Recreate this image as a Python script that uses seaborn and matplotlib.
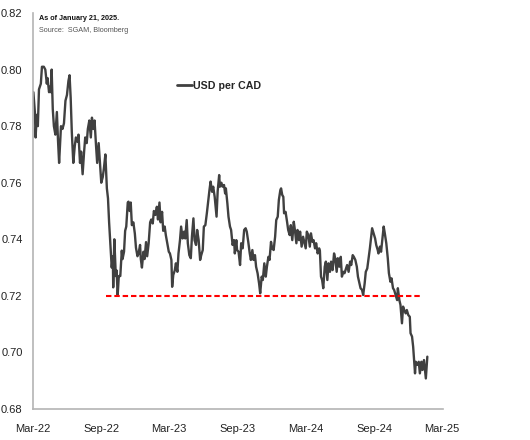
import pandas as pd
import matplotlib.pyplot as plt
import matplotlib.dates as mdates
import seaborn as sns

# USD per CAD (about two readings a week)
dates = [
    '2022-03-02', '2022-03-06', '2022-03-08', '2022-03-11', '2022-03-14', '2022-03-17', '2022-03-22', '2022-03-25', '2022-03-30', '2022-04-03',
    '2022-04-07', '2022-04-09', '2022-04-13', '2022-04-16', '2022-04-18', '2022-04-20', '2022-04-23', '2022-04-26', '2022-04-30', '2022-05-04',
    '2022-05-07', '2022-05-10', '2022-05-15', '2022-05-19', '2022-05-23', '2022-05-27', '2022-05-31', '2022-06-04', '2022-06-07', '2022-06-10',
    '2022-06-13', '2022-06-17', '2022-06-21', '2022-06-24', '2022-06-28', '2022-07-01', '2022-07-05', '2022-07-08', '2022-07-12', '2022-07-16',
    '2022-07-19', '2022-07-23', '2022-07-26', '2022-07-30', '2022-08-03', '2022-08-06', '2022-08-10', '2022-08-13', '2022-08-17', '2022-08-20',
    '2022-08-24', '2022-08-28', '2022-08-31', '2022-09-04', '2022-09-07', '2022-09-11', '2022-09-15', '2022-09-18', '2022-09-21', '2022-09-25',
    '2022-09-28', '2022-10-01', '2022-10-02', '2022-10-05', '2022-10-09', '2022-10-11', '2022-10-14', '2022-10-17', '2022-10-21', '2022-10-25',
    '2022-10-27', '2022-10-31', '2022-11-03', '2022-11-06', '2022-11-10', '2022-11-12', '2022-11-15', '2022-11-18', '2022-11-21', '2022-11-25',
    '2022-11-29', '2022-12-02', '2022-12-06', '2022-12-09', '2022-12-13', '2022-12-15', '2022-12-18', '2022-12-22', '2022-12-25', '2022-12-29',
    '2023-01-01', '2023-01-05', '2023-01-09', '2023-01-12', '2023-01-16', '2023-01-19', '2023-01-23', '2023-01-27', '2023-01-30', '2023-02-03',
    '2023-02-06', '2023-02-10', '2023-02-13', '2023-02-17', '2023-02-20', '2023-02-24', '2023-02-28', '2023-03-03', '2023-03-07', '2023-03-09',
    '2023-03-12', '2023-03-16', '2023-03-19', '2023-03-23', '2023-03-26', '2023-03-30', '2023-04-02', '2023-04-06', '2023-04-10', '2023-04-13',
    '2023-04-17', '2023-04-20', '2023-04-24', '2023-04-28', '2023-05-01', '2023-05-05', '2023-05-08', '2023-05-12', '2023-05-15', '2023-05-19',
    '2023-05-23', '2023-05-26', '2023-05-30', '2023-06-02', '2023-06-06', '2023-06-10', '2023-06-13', '2023-06-17', '2023-06-20', '2023-06-24',
    '2023-06-27', '2023-07-01', '2023-07-06', '2023-07-09', '2023-07-13', '2023-07-15', '2023-07-19', '2023-07-22', '2023-07-26', '2023-07-29',
    '2023-07-31', '2023-08-04', '2023-08-07', '2023-08-11', '2023-08-14', '2023-08-18', '2023-08-22', '2023-08-24', '2023-08-28', '2023-08-30',
    '2023-09-03', '2023-09-07', '2023-09-10', '2023-09-14', '2023-09-18', '2023-09-22', '2023-09-25', '2023-09-29', '2023-10-03', '2023-10-06',
    '2023-10-10', '2023-10-13', '2023-10-17', '2023-10-20', '2023-10-24', '2023-10-28', '2023-10-31', '2023-11-04', '2023-11-07', '2023-11-11',
    '2023-11-15', '2023-11-18', '2023-11-22', '2023-11-25', '2023-11-29', '2023-12-02', '2023-12-06', '2023-12-10', '2023-12-13', '2023-12-17',
    '2023-12-20', '2023-12-24', '2023-12-26', '2023-12-29', '2024-01-01', '2024-01-03', '2024-01-07', '2024-01-11', '2024-01-14', '2024-01-18',
    '2024-01-21', '2024-01-25', '2024-01-29', '2024-02-01', '2024-02-05', '2024-02-08', '2024-02-12', '2024-02-15', '2024-02-19', '2024-02-23',
    '2024-02-26', '2024-03-01', '2024-03-04', '2024-03-08', '2024-03-12', '2024-03-15', '2024-03-19', '2024-03-22', '2024-03-26', '2024-03-29',
    '2024-04-02', '2024-04-06', '2024-04-08', '2024-04-11', '2024-04-14', '2024-04-17', '2024-04-21', '2024-04-24', '2024-04-28', '2024-05-01',
    '2024-05-05', '2024-05-08', '2024-05-12', '2024-05-16', '2024-05-19', '2024-05-23', '2024-05-26', '2024-05-30', '2024-06-03', '2024-06-06',
    '2024-06-10', '2024-06-13', '2024-06-17', '2024-06-20', '2024-06-24', '2024-06-28', '2024-07-01', '2024-07-05', '2024-07-08', '2024-07-12',
    '2024-07-16', '2024-07-19', '2024-07-23', '2024-07-26', '2024-07-30', '2024-08-02', '2024-08-06', '2024-08-09', '2024-08-13', '2024-08-17',
    '2024-08-20', '2024-08-24', '2024-08-26', '2024-08-30', '2024-09-03', '2024-09-06', '2024-09-10', '2024-09-12', '2024-09-16', '2024-09-19',
    '2024-09-23', '2024-09-26', '2024-09-29', '2024-10-03', '2024-10-07', '2024-10-10', '2024-10-14', '2024-10-17', '2024-10-21', '2024-10-24',
    '2024-10-28', '2024-11-01', '2024-11-03', '2024-11-07', '2024-11-10', '2024-11-14', '2024-11-17', '2024-11-20', '2024-11-24', '2024-11-27',
    '2024-12-01', '2024-12-05', '2024-12-07', '2024-12-11', '2024-12-14', '2024-12-17', '2024-12-19', '2024-12-21', '2024-12-25', '2024-12-29',
    '2025-01-01', '2025-01-05', '2025-01-08', '2025-01-12', '2025-01-17', '2025-01-21',
]

usd_per_cad = [
    0.792, 0.785, 0.776, 0.784, 0.780, 0.793, 0.795, 0.801, 0.801, 0.800,
    0.795, 0.797, 0.792, 0.794, 0.792, 0.800, 0.786, 0.780, 0.777, 0.785,
    0.775, 0.767, 0.780, 0.779, 0.781, 0.789, 0.791, 0.796, 0.798, 0.790,
    0.778, 0.767, 0.773, 0.776, 0.7745, 0.777, 0.767, 0.771, 0.763, 0.771,
    0.776, 0.774, 0.779, 0.782, 0.776, 0.783, 0.779, 0.782, 0.773, 0.767,
    0.774, 0.766, 0.760, 0.762, 0.765, 0.770, 0.758, 0.7545, 0.746, 0.737,
    0.730, 0.734, 0.723, 0.740, 0.727, 0.729, 0.7203, 0.727, 0.727, 0.736,
    0.733, 0.7356, 0.743, 0.7445, 0.753, 0.7533, 0.750, 0.753, 0.745, 0.746,
    0.742, 0.737, 0.734, 0.735, 0.738, 0.733, 0.730, 0.7356, 0.733, 0.739,
    0.734, 0.7386, 0.746, 0.747, 0.7456, 0.750, 0.7486, 0.7515, 0.747, 0.753,
    0.746, 0.7497, 0.743, 0.7445, 0.7415, 0.7386, 0.7356, 0.735, 0.7327, 0.7232,
    0.7274, 0.729, 0.7315, 0.7285, 0.735, 0.7397, 0.7445, 0.7403, 0.7427, 0.7403,
    0.7468, 0.7386, 0.7344, 0.7333, 0.7409, 0.7474, 0.7397, 0.738, 0.7433, 0.7397,
    0.7327, 0.7344, 0.7362, 0.7445, 0.745, 0.7492, 0.7527, 0.7574, 0.7604, 0.7568,
    0.7586, 0.755, 0.748, 0.757, 0.7627, 0.7586, 0.760, 0.7586, 0.7592, 0.7562,
    0.758, 0.7527, 0.748, 0.7445, 0.7433, 0.738, 0.7397, 0.735, 0.7397, 0.7362,
    0.7356, 0.7309, 0.7386, 0.7368, 0.7433, 0.7439, 0.7427, 0.7391, 0.735, 0.7327,
    0.7362, 0.7327, 0.7344, 0.7303, 0.728, 0.7244, 0.7209, 0.7268, 0.7256, 0.7315,
    0.7268, 0.7303, 0.7338, 0.7327, 0.7391, 0.7368, 0.7362, 0.7409, 0.7468, 0.748,
    0.7539, 0.7574, 0.758, 0.7557, 0.755, 0.7492, 0.7497, 0.7462, 0.7433, 0.7415,
    0.745, 0.7397, 0.7462, 0.7433, 0.7386, 0.7433, 0.7397, 0.7427, 0.7374, 0.7409,
    0.7391, 0.7368, 0.7427, 0.7415, 0.7374, 0.7421, 0.7391, 0.7397, 0.7368, 0.7386,
    0.735, 0.7368, 0.736, 0.7268, 0.7256, 0.7227, 0.7303, 0.7321, 0.7256, 0.7315,
    0.7285, 0.7321, 0.7291, 0.735, 0.7333, 0.7285, 0.7333, 0.7303, 0.7338, 0.7268,
    0.7285, 0.728, 0.7297, 0.7309, 0.7285, 0.7321, 0.7309, 0.7344, 0.7338, 0.7327,
    0.7303, 0.7268, 0.7244, 0.7227, 0.7221, 0.7203, 0.7244, 0.7285, 0.7297, 0.7338,
    0.7368, 0.7415, 0.7439, 0.7421, 0.7403, 0.738, 0.7362, 0.735, 0.7374, 0.7356,
    0.7409, 0.7445, 0.7421, 0.7386, 0.7333, 0.728, 0.725, 0.7262, 0.7227, 0.7221,
    0.7203, 0.7185, 0.7227, 0.7185, 0.7168, 0.7103, 0.7162, 0.715, 0.7138, 0.715,
    0.7132, 0.7126, 0.7068, 0.7056, 0.702, 0.6962, 0.6926, 0.6967, 0.6956, 0.6967,
    0.6926, 0.6967, 0.6938, 0.6973, 0.6908, 0.6985,
]

# red dashed support line
support_level = 0.72
support_start = '2022-09-13'
support_end = '2025-01-01'

y_ticks = [0.68, 0.70, 0.72, 0.74, 0.76, 0.78, 0.80, 0.82]
x_ticks = ['2022-03-01', '2022-09-01', '2023-03-01', '2023-09-01', '2024-03-01', '2024-09-01', '2025-03-01']

df = pd.DataFrame({'date': pd.to_datetime(dates), 'USD per CAD': usd_per_cad})

sns.set_style('white')
plt.rcParams['font.family'] = ['Liberation Sans', 'DejaVu Sans']

fig = plt.figure(figsize=(5.3, 4.4), dpi=100)
ax = fig.add_axes([33 / 530, 31 / 440, 410 / 530, 396 / 440])

sns.lineplot(data=df, x='date', y='USD per CAD', color='#404040', linewidth=1.7,
             label='USD per CAD', ax=ax)
ax.hlines(support_level, pd.Timestamp(support_start), pd.Timestamp(support_end),
          colors='#FF0000', linewidth=1.5, linestyles=(0, (2.6, 1.4)))

ax.set_xlim(pd.Timestamp(x_ticks[0]), pd.Timestamp('2025-03-04'))
ax.set_ylim(y_ticks[0], y_ticks[-1])
ax.set_xticks(pd.to_datetime(x_ticks))
ax.xaxis.set_major_formatter(mdates.DateFormatter('%b-%y'))
ax.set_yticks(y_ticks)
ax.set_yticklabels([f'{t:.2f}' for t in y_ticks])
ax.set_xlabel('')
ax.set_ylabel('')

for side in ['top', 'right']:
    ax.spines[side].set_visible(False)
for side in ['left', 'bottom']:
    ax.spines[side].set_color('#B4B4B4')
    ax.spines[side].set_linewidth(1.2)
ax.tick_params(axis='both', direction='out', length=3.5, width=1, color='#B4B4B4',
               labelsize=8, labelcolor='#222222')
ax.tick_params(axis='x', pad=7)
ax.tick_params(axis='y', pad=4)

leg = ax.legend(loc='center left', bbox_to_anchor=((177 - 33) / 410, (409 - 86) / 396),
                frameon=False, handlelength=1.4, handletextpad=0.05, borderpad=0,
                borderaxespad=0, prop={'size': 7.7, 'weight': 'bold'})
for line in leg.get_lines():
    line.set_linewidth(2)

fig.text(39 / 530, 1 - 18 / 440, 'As of January 21, 2025.', fontsize=5.2,
         fontweight='bold', va='center', color='#111111',
         family=['Liberation Sans Narrow', 'Liberation Sans'])
fig.text(39 / 530, 1 - 30.5 / 440, 'Source:  SGAM, Bloomberg', fontsize=5.2,
         va='center', color='#555555',
         family=['Liberation Sans Narrow', 'Liberation Sans'])

fig.savefig('out.png', dpi=100, facecolor='white')
